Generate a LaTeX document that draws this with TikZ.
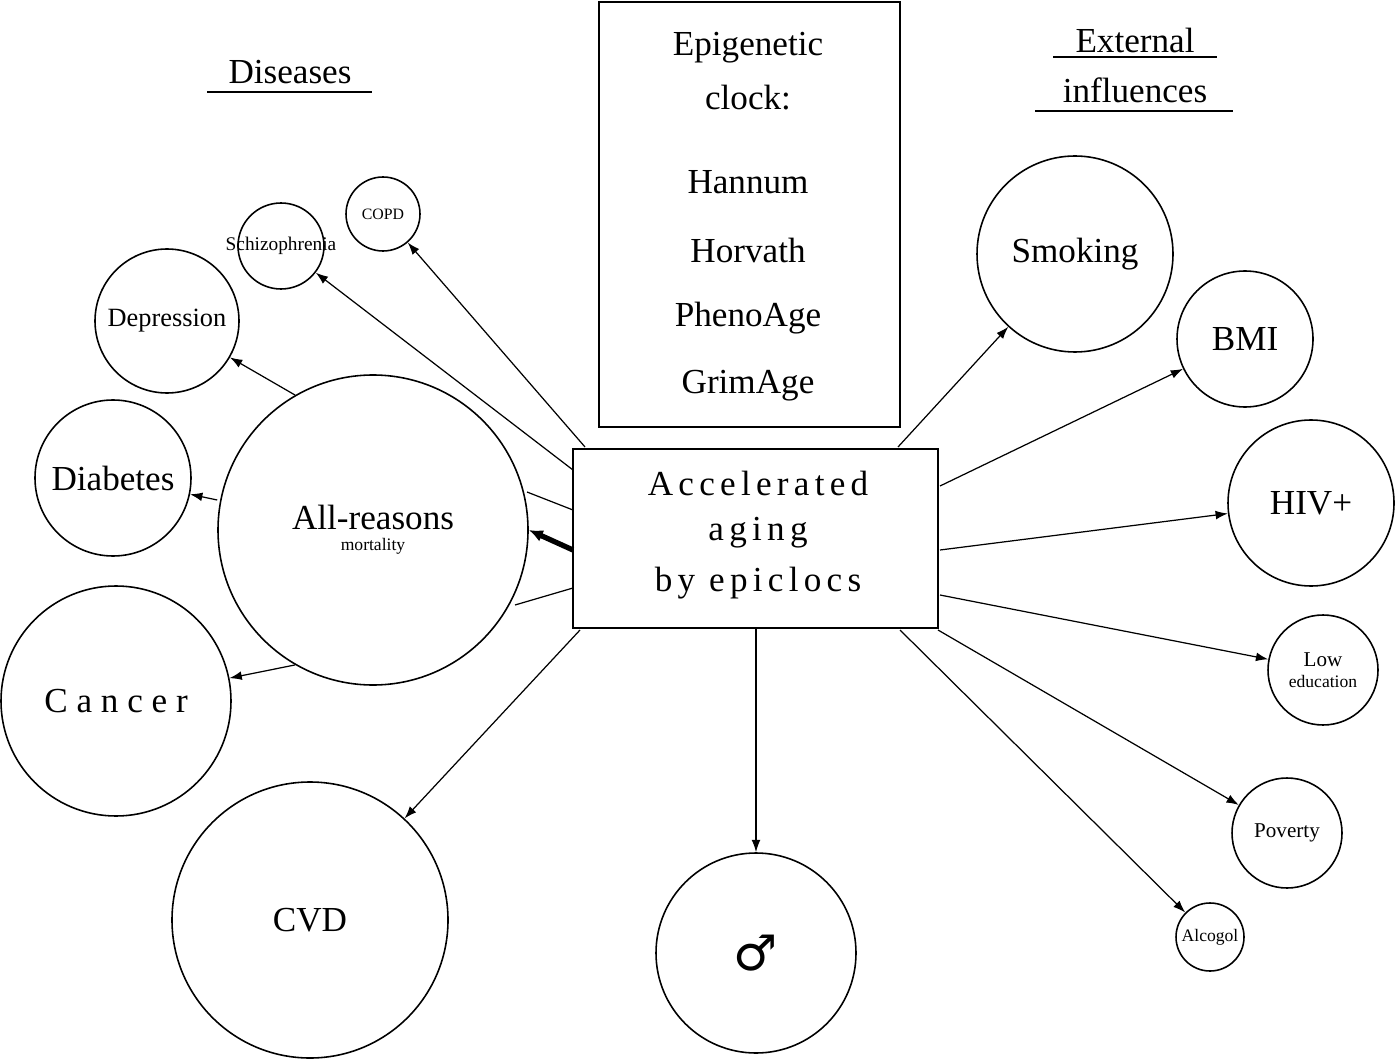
\documentclass[tikz,border=0pt]{standalone}
\usepackage{fontspec}
\setmainfont{Liberation Serif}
\newfontfamily\symfont{DejaVu Sans}
\usetikzlibrary{arrows.meta}
\begin{document}
\begin{tikzpicture}[x=0.02cm,y=-0.02cm,
 circ/.style={draw,circle,line width=0.9pt,inner sep=0pt},
 arr/.style={-{Latex[length=7pt,width=5pt]},line width=0.7pt},
 ln/.style={line width=0.7pt},
 bx/.style={draw,line width=0.9pt}]
\useasboundingbox (0,0) rectangle (1395,1060);
\fill[white] (0,0) rectangle (1395,1060);
% titles
\node (dis) at (290,72) {\fontsize{20}{24}\selectfont Diseases};
\draw[ln] (207,92) -- (372,92);
\node (ext1) at (1135,40) {\fontsize{20}{24}\selectfont External};
\node (ext2) at (1135,90) {\fontsize{20}{24}\selectfont influences};
\draw[ln] (1053,57) -- (1217,57);
\draw[ln] (1035,111) -- (1233,111);
% epigenetic box
\node[bx,minimum width=301*0.02cm,minimum height=425*0.02cm] (clk) at (749.5,214.5) {};
\foreach \t/\y in {Epigenetic/48,clock:/98,Hannum/182,Horvath/250,PhenoAge/318,GrimAge/386}
  \node at (748,\y) {\fontsize{20}{24}\selectfont \t};
% central box
\node[bx,minimum width=365*0.02cm,minimum height=179*0.02cm] (cen) at (755.5,538.5) {};
\node at (758,483) {\fontsize{20}{24}\selectfont\addfontfeature{LetterSpace=15} Accelerated};
\node at (758,533) {\fontsize{20}{24}\selectfont\addfontfeature{LetterSpace=15} aging};
\node at (758,583) {\fontsize{20}{24}\selectfont\addfontfeature{LetterSpace=15} by epiclocs};
% circles
\node[circ,minimum size=310*0.02cm] (mort) at (373,530) {};
\node[align=center] at (373,530) {\fontsize{20}{26}\selectfont All-reasons\\mortality};
\node[circ,minimum size=156*0.02cm] (diab) at (113,478) {};
\node at (113,478) {\fontsize{20}{24}\selectfont Diabetes};
\node[circ,minimum size=144*0.02cm] (dep) at (167,321) {};
\node at (167,321) {\fontsize{15}{18}\selectfont Depression};
\node[circ,minimum size=86*0.02cm] (sch) at (281,246) {};
\node at (281,246) {\fontsize{11}{13}\selectfont Schizophrenia};
\node[circ,minimum size=74*0.02cm] (copd) at (383,214) {};
\node at (383,214) {\fontsize{9}{11}\selectfont COPD};
\node[circ,minimum size=230*0.02cm] (can) at (116,701) {};
\node at (116,701) {\fontsize{20}{24}\selectfont\addfontfeature{LetterSpace=25} Cancer};
\node[circ,minimum size=276*0.02cm] (cvd) at (310,920) {};
\node at (310,920) {\fontsize{20}{24}\selectfont CVD};
\node[circ,minimum size=200*0.02cm] (male) at (756,953) {};
\node at (756,953) {\fontsize{28}{30}\selectfont\symfont ♂};
\node[circ,minimum size=196*0.02cm] (smk) at (1075,254) {};
\node at (1075,254) {\fontsize{20}{24}\selectfont Smoking};
\node[circ,minimum size=136*0.02cm] (bmi) at (1245,339) {};
\node at (1245,339) {\fontsize{20}{24}\selectfont BMI};
\node[circ,minimum size=166*0.02cm] (hiv) at (1311,503) {};
\node at (1311,503) {\fontsize{20}{24}\selectfont HIV+};
\node[circ,minimum size=110*0.02cm] (edu) at (1323,670) {};
\node[align=center] at (1323,670) {\fontsize{12}{17}\selectfont Low\\education};
\node[circ,minimum size=110*0.02cm] (pov) at (1287,833) {};
\node at (1287,833) {\fontsize{12}{14}\selectfont Poverty};
\node[circ,minimum size=68*0.02cm] (alc) at (1210,937) {};
\node at (1210,937) {\fontsize{10}{12}\selectfont Alcogol};
% connectors
\coordinate (c1) at (585,447); \coordinate (c2) at (573,470);
\draw[arr] (c1) -- (copd);
\draw[arr] (c2) -- (sch);
\draw[ln] (573,510) -- (527,492);
\draw[ln] (573,588) -- (515,605);
\draw[-{Latex[length=8pt,width=7pt]},line width=3pt] (573,550) -- (mort.east);
\draw[arr] (mort.120) -- (dep);
\draw[arr] (mort.west) ++(0,-30) -- (diab);
\draw[arr] (mort.240) -- (can);
\draw[arr] (580,630) -- (cvd);
\draw[arr] (cen.south -| male) -- (male);
\draw[arr] (898,447) -- (smk);
\draw[arr] (940,486) -- (bmi);
\draw[arr] (940,550) -- (hiv);
\draw[arr] (940,595) -- (edu);
\draw[arr] (938,630) -- (pov);
\draw[arr] (900,630) -- (alc);
\end{tikzpicture}
\end{document}
